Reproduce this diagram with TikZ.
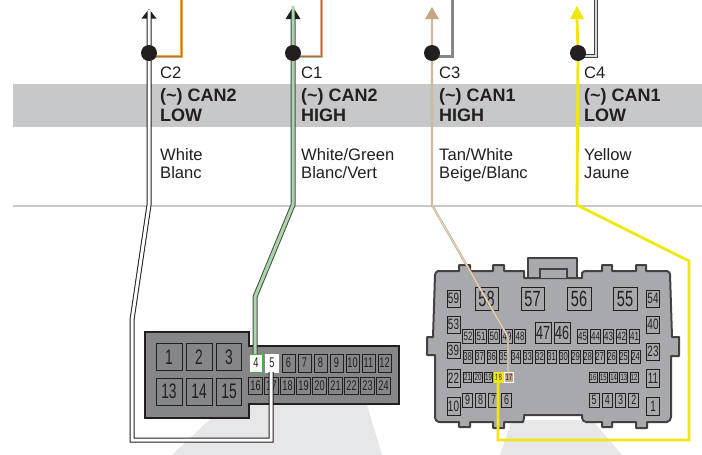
\documentclass[tikz,border=0pt]{standalone}
\usepackage{fontspec}
\setmainfont{Liberation Sans}
\newfontfamily\condf[FakeStretch=0.66]{Liberation Sans}
\definecolor{ink}{HTML}{231F20}
\definecolor{bandgray}{HTML}{C7C8CA}
\definecolor{beamgray}{HTML}{E6E7E8}
\definecolor{bodyL}{HTML}{848688}
\definecolor{bodyR}{HTML}{A7A9AC}
\definecolor{yel}{HTML}{F1E60F}
\definecolor{tan1}{HTML}{C4A683}
\definecolor{orA}{HTML}{EFA74E}
\definecolor{orB}{HTML}{9B7B4F}
\definecolor{orC}{HTML}{F1A588}
\definecolor{grC}{HTML}{5B8F5B}
\definecolor{grL}{HTML}{A8D8A8}
\tikzset{
  x=1pt,y=-1pt,
  lab/.style={anchor=base west,inner sep=0pt,text=ink,font=\fontsize{16.6}{16.6}\selectfont},
  blab/.style={anchor=base west,inner sep=0pt,text=ink,font=\fontsize{18}{18}\selectfont\bfseries},
  pinbox/.style={draw=ink,inner sep=0pt,text=ink,line width=1pt},
  junction/.style={circle,fill=ink,inner sep=0pt,minimum size=16pt}
}
\newcommand{\pinT}[7]{\node[pinbox,minimum width=#4pt,minimum height=#5pt,font=\condf\fontsize{#6}{#6}\selectfont] (#1) at (#2,#3) {#7};}
\newcommand{\pinL}[6]{\pinT{#1}{#2}{#3}{#4}{#5}{#6}{#1}}
\newcommand{\pinset}[7]{\foreach \n [count=\i from 0, evaluate=\i as \xx using {#2+#3*\i}] in {#1} {\pinL{\n}{\xx}{#4}{#5}{#6}{#7}}}
\begin{document}
\begin{tikzpicture}
\useasboundingbox (0,0) rectangle (702,455);
\fill[white] (0,0) rectangle (702,455);
% beams
\fill[beamgray] (172,455) -- (225,405) -- (367,405) -- (382,455) -- cycle;
\fill[beamgray] (500,455) -- (512,420) -- (592,420) -- (622,455) -- cycle;
% band
\fill[bandgray] (13,84) rectangle (702,127);
\draw[bandgray,line width=2pt] (13,205.5) -- (702,205.5);
% labels
\node[lab] (c2) at (160,78.5) {C2};
\node[lab] (c1) at (301,78.5) {C1};
\node[lab] (c3) at (439,78.5) {C3};
\node[lab] (c4) at (584,78.5) {C4};
\node[blab] (t2a) at (160,101.5) {(\textasciitilde) CAN2};
\node[blab] (t2b) at (160,121.5) {LOW};
\node[blab] (t1a) at (301,101.5) {(\textasciitilde) CAN2};
\node[blab] (t1b) at (301,121.5) {HIGH};
\node[blab] (t3a) at (439,101.5) {(\textasciitilde) CAN1};
\node[blab] (t3b) at (439,121.5) {HIGH};
\node[blab] (t4a) at (584,101.5) {(\textasciitilde) CAN1};
\node[blab] (t4b) at (584,121.5) {LOW};
\node[lab] (w2a) at (160,160) {White};
\node[lab] (w2b) at (160,178) {Blanc};
\node[lab] (w1a) at (301,160) {White/Green};
\node[lab] (w1b) at (301,178) {Blanc/Vert};
\node[lab] (w3a) at (439,160) {Tan/White};
\node[lab] (w3b) at (439,178) {Beige/Blanc};
\node[lab] (w4a) at (584,160) {Yellow};
\node[lab] (w4b) at (584,178) {Jaune};
% left connector
\draw[fill=bodyL,draw=ink,line width=2.2pt] (145,332) -- (249,332) -- (249,346) -- (399,346) -- (399,404) -- (249,404) -- (249,418) -- (145,418) -- cycle;
\pinL{1}{169}{357}{26}{27}{21}
\pinL{2}{199}{357}{26}{27}{21}
\pinL{3}{229}{357}{25}{27}{21}
\pinL{13}{169}{391.5}{26}{27}{21}
\pinL{14}{199}{391.5}{26}{27}{21}
\pinL{15}{229}{391.5}{25}{27}{21}
\foreach \n [evaluate=\n as \xx using {288.5+16*(\n-6)}] in {6,...,12} {\pinL{\n}{\xx}{363}{13}{18}{14}}
\foreach \n [evaluate=\n as \xx using {255.5+16*(\n-16)}] in {16,...,24} {\pinL{\n}{\xx}{385.5}{13.5}{17}{14}}
\node[pinbox,draw=green!55!black!70!white,fill=white,minimum width=13pt,minimum height=18pt,font=\condf\fontsize{14}{14}\selectfont] (p4) at (256,363) {4};
\node[pinbox,draw=white,fill=white,minimum width=13pt,minimum height=18pt,font=\condf\fontsize{14}{14}\selectfont] (p5) at (272,363) {5};
% right connector
\draw[fill=bodyR,draw=ink!85,line width=2pt,line join=round] (528,278) -- (528,258) -- (577,258) -- (577,278) -- cycle;
\draw[fill=bodyR,draw=ink!85,line width=2pt,line join=round]
 (438,271) -- (459,271) -- (459,265) -- (470,265) -- (470,271) -- (493,271) -- (493,265) -- (504,265) -- (504,271)
 -- (524,271) -- (524,278) -- (582,278) -- (582,273) to[bend left=30] (586,271) -- (602,271) -- (602,265) -- (612,265) -- (612,271)
 -- (636,271) -- (636,265) -- (646,265) -- (646,271) -- (667,271) to[bend left=30] (670,274) -- (672,337) -- (679,337) -- (679,356) -- (671,356) -- (671,417)
 to[bend left=35] (667,422) -- (647,422) -- (647,428) -- (636,428) -- (636,422) -- (612,422) -- (612,427) -- (602,427) -- (602,422)
 -- (586,422) to[bend left=35] (582,418) -- (582,415) -- (524,415) -- (524,418) -- (523,422) -- (504,422) -- (504,428) -- (493,428) -- (493,422)
 -- (470,422) -- (470,427) -- (459,427) -- (459,422) -- (439,422) to[bend left=35] (435,418) -- (435,355) -- (427,355) -- (427,337) -- (433,337)
 -- (435,275) to[bend left=30] cycle;
\draw[fill=bodyR,draw=ink!85,line width=2pt] (540,278) -- (540,268.5) -- (567,268.5) -- (567,278);
% right pins
\pinL{59}{453.5}{298.5}{13}{17}{15}
\pinL{58}{486.5}{299}{23}{22.5}{22}
\pinL{57}{532.5}{299}{23}{22.5}{22}
\pinL{56}{579}{299}{24}{23}{22}
\pinL{55}{625}{299}{24}{23}{22}
\pinL{54}{653}{298.5}{13}{17}{15}
\pinL{53}{453.5}{324.5}{13}{17}{15}
\pinL{40}{653}{324.5}{13}{17}{15}
\pinL{47}{543}{332.5}{16}{21}{19}
\pinL{46}{562}{332.5}{16}{21}{19}
\pinL{39}{453.5}{350}{13}{16}{15}
\pinL{23}{653}{351.5}{13}{17}{15}
\pinL{22}{453.5}{378}{13}{18}{15}
\pinL{11}{653}{378}{13}{18}{15}
\pinL{10}{453.5}{406}{13}{18}{15}
\pinT{r1}{653}{406}{13}{18}{15}{1}
\pinset{52,51,50,49,48}{468}{13}{336}{10.5}{14}{12}
\pinset{45,44,43,42,41}{582.5}{13}{336}{10.5}{14}{12}
\pinset{38,37,36,35,34,33,32,31,30,29,28,27,26,25,24}{467.5}{12}{356.5}{9}{13}{11.5}
\pinset{21,20,19}{467.5}{10.5}{377}{8.5}{10}{9.5}
\pinset{16,15,14,13,12}{593}{10.3}{377}{8}{10}{9}
\pinset{9,8,7,6}{467.5}{13}{400}{9.5}{14}{13.5}
\pinset{5,4,3,2}{594}{13.3}{400}{10}{14}{13.5}
\node[pinbox,draw=yel,fill=yel,minimum width=9pt,minimum height=10pt,font=\condf\fontsize{9}{9}\selectfont] (p18) at (498.5,377) {18};
\node[pinbox,draw=white,fill=tan1,minimum width=8.5pt,minimum height=10pt,font=\condf\fontsize{9}{9}\selectfont] (p17) at (509,377) {17};
% free ends
\coordinate (a2) at (149,10);
\coordinate (a1) at (293,6);
\coordinate (a3) at (432,12);
\coordinate (a4) at (577,18);
\coordinate (s2) at (181,0);
\coordinate (s1) at (321,0);
\coordinate (s3) at (452,0);
\coordinate (s4) at (596,0);
\coordinate (p5b) at (271,372);
\coordinate (p4b) at (255,354);
\coordinate (p17b) at (508,372);
\coordinate (p18b) at (498,378);
\coordinate (j2) at (149,53);
\coordinate (j1) at (293,53);
\coordinate (j3) at (432,53);
\coordinate (j4) at (578,53);
% stubs
\draw[draw=orA,line width=3pt] (j2) -- (149,56) -- (181,56) -- (s2);
\draw[draw=orB,line width=.8pt] (j2) -- (149,56) -- (181,56) -- (s2);
\draw[draw=orC,line width=3pt] (j1) -- (293,56) -- (321,56) -- (s1);
\draw[draw=grC,line width=1pt] (j1) -- (293,56) -- (321,56) -- (s1);
\draw[draw=bodyL,line width=3pt] (j3) -- (432,56) -- (452,56) -- (s3);
\draw[draw=ink!85,line width=3.6pt] (j4) -- (578,56) -- (596,56) -- (s4);
\draw[draw=white!85!black,line width=1.5pt] (j4) -- (578,56) -- (596,56) -- (s4);
% arrow heads
\fill[ink] (149,9) -- (156.5,18.5) -- (141.5,18.5) -- cycle;
\fill[ink] (293,7) -- (300.5,19) -- (285.5,19) -- cycle;
\fill[tan1] (432,7) -- (439,19) -- (425,19) -- cycle;
\fill[yel] (577,6) -- (584,19) -- (570,19) -- cycle;
% main wires
\draw[ink,line width=5pt] (149,15) -- (j2) -- (149,205) -- (132,320) -- (132,440) -- (271,440) -- (p5b);
\draw[white,line width=3pt] (a2) -- (j2) -- (149,205) -- (132,320) -- (132,440) -- (271,440) -- (p5b);
\draw[ink!80,line width=5pt] (293,19) -- (j1) -- (293,205) -- (255,297) -- (p4b);
\draw[grL,line width=3pt] (a1) -- (j1) -- (293,205) -- (255,297) -- (p4b);
\draw[tan1,line width=2.2pt] (a3) -- (j3) -- (432,205) -- (508,337) -- (p17b);
\draw[white!65!tan1,line width=.8pt] (432,19) -- (j3) -- (432,205) -- (508,337) -- (p17b);
\draw[yel,line width=2.8pt] (a4) -- (j4) -- (577,205) -- (689,261) -- (689,440) -- (498,440) -- (p18b);
% junctions
\node[junction] (J2) at (j2) {};
\node[junction] (J1) at (j1) {};
\node[junction] (J3) at (j3) {};
\node[junction] (J4) at (j4) {};
\end{tikzpicture}
\end{document}
